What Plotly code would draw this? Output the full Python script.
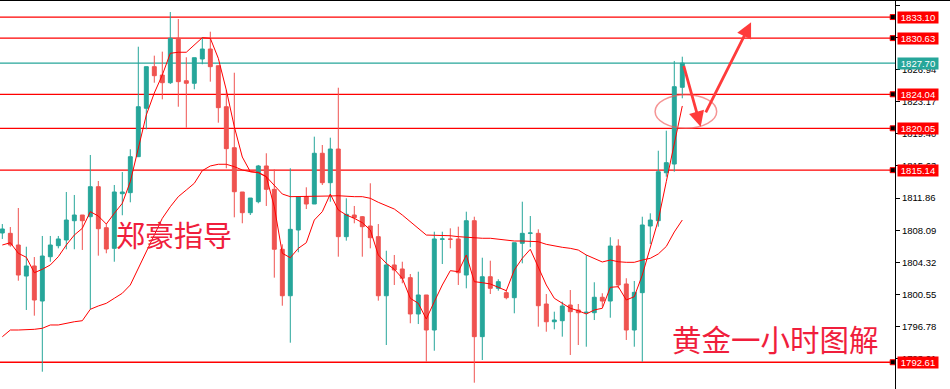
import plotly.graph_objects as go

# ---------------- data ----------------
opens = [1807.77, 1807.73, 1806.36, 1802.72, 1803.90, 1799.79, 1804.99, 1806.28, 1806.95, 1809.21,
         1809.88, 1809.68, 1813.20, 1808.39, 1805.97, 1812.38, 1812.50, 1816.72, 1822.40, 1827.28,
         1826.30, 1825.40, 1830.61, 1825.63, 1825.33, 1828.18, 1829.35, 1827.39, 1822.58, 1817.77,
         1812.58, 1810.15, 1811.44, 1815.63, 1812.89, 1805.86, 1800.41, 1808.12, 1812.03, 1811.17,
         1817.12, 1813.67, 1817.62, 1807.34, 1809.88, 1809.68, 1808.59, 1807.34, 1800.41, 1804.02,
         1803.55, 1802.53, 1798.27, 1800.50, 1796.39, 1807.03, 1807.07, 1807.07, 1802.84, 1809.21,
         1795.61, 1802.64, 1801.28, 1800.77, 1800.18, 1806.56, 1807.73, 1807.73, 1799.44, 1797.36,
         1797.48, 1799.32, 1798.74, 1798.42, 1798.42, 1800.23, 1799.79, 1806.24, 1801.79, 1796.39,
         1800.77, 1808.59, 1809.21, 1814.84, 1815.86, 1824.86]
highs = [1808.82, 1808.47, 1810.70, 1806.16, 1804.95, 1807.42, 1807.42, 1807.42, 1812.58, 1812.23,
         1809.88, 1816.92, 1813.87, 1808.82, 1813.40, 1814.92, 1817.59, 1829.62, 1827.28, 1828.57,
         1829.04, 1833.69, 1832.87, 1828.38, 1828.33, 1830.72, 1831.38, 1827.39, 1824.54, 1826.57,
         1812.58, 1811.87, 1815.75, 1817.12, 1815.24, 1806.44, 1815.36, 1812.03, 1813.13, 1819.07,
         1818.09, 1818.95, 1824.81, 1811.84, 1810.94, 1809.76, 1813.60, 1808.82, 1805.69, 1805.19,
         1804.40, 1802.96, 1803.23, 1800.50, 1807.92, 1807.92, 1808.32, 1808.51, 1810.27, 1809.68,
         1804.87, 1804.52, 1802.34, 1801.08, 1806.63, 1811.44, 1809.76, 1808.20, 1800.61, 1798.54,
         1799.71, 1801.08, 1799.44, 1805.19, 1801.99, 1800.70, 1807.27, 1807.03, 1802.46, 1802.14,
         1809.68, 1810.08, 1817.42, 1819.77, 1827.95, 1828.45]
lows = [1807.07, 1806.16, 1802.17, 1798.74, 1798.07, 1791.50, 1804.40, 1805.97, 1805.86, 1805.86,
        1805.78, 1798.82, 1805.11, 1805.39, 1804.40, 1809.85, 1811.37, 1816.72, 1819.93, 1825.40,
        1823.45, 1825.25, 1822.58, 1820.12, 1824.63, 1827.56, 1825.52, 1820.71, 1815.36, 1809.61,
        1808.91, 1809.88, 1811.25, 1810.94, 1802.53, 1799.24, 1794.90, 1805.51, 1810.58, 1811.17,
        1813.40, 1811.44, 1804.99, 1806.87, 1808.91, 1804.99, 1805.97, 1799.83, 1794.63, 1801.67,
        1801.87, 1797.18, 1797.09, 1792.67, 1793.96, 1804.13, 1805.97, 1801.67, 1801.28, 1790.21,
        1792.87, 1800.61, 1801.00, 1799.99, 1798.35, 1804.21, 1806.09, 1796.78, 1796.19, 1796.47,
        1795.61, 1793.46, 1794.63, 1794.43, 1797.56, 1799.12, 1797.83, 1801.28, 1795.22, 1794.43,
        1792.67, 1806.48, 1808.51, 1814.37, 1814.96, 1823.57]
closes = [1808.24, 1806.36, 1802.84, 1803.90, 1799.91, 1805.07, 1806.36, 1807.07, 1809.29, 1809.88,
          1809.21, 1813.20, 1808.27, 1805.89, 1812.58, 1812.58, 1816.72, 1822.58, 1827.28, 1826.22,
          1825.40, 1830.61, 1825.52, 1825.33, 1828.33, 1829.35, 1827.28, 1822.47, 1817.66, 1812.61,
          1810.15, 1811.87, 1815.63, 1812.89, 1805.86, 1800.41, 1808.20, 1812.03, 1811.17, 1817.12,
          1813.67, 1817.62, 1807.34, 1809.96, 1809.56, 1808.51, 1807.22, 1800.41, 1804.02, 1803.43,
          1802.46, 1798.27, 1800.50, 1796.39, 1807.07, 1807.07, 1807.03, 1803.11, 1809.21, 1795.61,
          1802.64, 1801.28, 1802.06, 1800.18, 1806.63, 1807.73, 1807.77, 1799.24, 1797.36, 1797.56,
          1799.21, 1798.54, 1798.42, 1798.47, 1800.23, 1799.79, 1806.24, 1801.67, 1796.39, 1800.81,
          1808.71, 1809.29, 1814.96, 1816.02, 1824.93, 1827.70]
fast_ma = [1806.36, 1806.63, 1805.39, 1804.92, 1803.11, 1803.51, 1804.02, 1804.99, 1806.36, 1807.53,
           1808.32, 1810.27, 1809.76, 1808.82, 1810.08, 1811.25, 1813.79, 1817.70, 1821.61, 1824.19,
           1826.30, 1828.85, 1828.97, 1828.97, 1829.82, 1830.68, 1830.61, 1828.26, 1824.54, 1820.24,
           1816.68, 1814.96, 1814.84, 1814.37, 1810.85, 1805.39, 1804.87, 1805.97, 1806.63, 1809.29,
           1810.27, 1812.34, 1810.47, 1809.88, 1809.49, 1808.98, 1808.12, 1805.19, 1804.21, 1803.51,
           1802.46, 1800.11, 1799.52, 1797.68, 1799.71, 1801.67, 1803.35, 1803.23, 1805.19, 1802.06,
           1801.94, 1801.79, 1801.40, 1801.00, 1803.43, 1804.80, 1805.86, 1803.82, 1801.67, 1800.11,
           1799.52, 1798.94, 1798.65, 1798.27, 1798.74, 1798.94, 1801.40, 1801.47, 1799.91, 1800.30,
           1802.84, 1805.97, 1809.29, 1813.79, 1818.33, 1822.67]
slow_ma = [1795.60, 1796.39, 1796.39, 1796.39, 1796.47, 1796.59, 1796.98, 1796.98, 1797.18, 1797.36,
           1797.48, 1798.82, 1799.21, 1799.52, 1800.11, 1800.70, 1801.67, 1803.63, 1805.77, 1807.73,
           1809.49, 1810.85, 1812.03, 1812.81, 1813.60, 1815.08, 1815.63, 1815.83, 1815.83, 1815.55,
           1815.16, 1814.96, 1814.89, 1814.37, 1813.40, 1812.34, 1812.03, 1812.03, 1812.03, 1812.11,
           1812.11, 1812.11, 1812.14, 1812.07, 1812.03, 1812.03, 1811.84, 1811.37, 1810.94, 1810.58,
           1809.88, 1809.09, 1808.32, 1807.53, 1807.50, 1807.50, 1807.45, 1807.34, 1807.26, 1807.15,
           1807.15, 1807.15, 1807.03, 1806.87, 1806.83, 1806.83, 1806.83, 1806.75, 1806.44, 1806.24,
           1806.09, 1805.97, 1805.77, 1805.19, 1804.80, 1804.37, 1804.60, 1804.40, 1804.33, 1804.33,
           1804.60, 1804.80, 1805.31, 1806.19, 1807.89, 1809.29]
bars = list(range(len(closes)))

red_levels = [1833.10, 1830.63, 1824.04, 1820.05, 1815.14, 1792.61]
teal_level = 1827.70
tick_values = [1834.48, 1830.71, 1826.94, 1823.17, 1819.40, 1815.63,
               1811.86, 1808.09, 1804.32, 1800.55, 1796.78, 1793.01]
title_left = "郑豪指导"
title_right = "黄金一小时图解"

UP = "#26a69a"
DOWN = "#ef5350"
RED = "#ff0000"
TXT = "#f01e3c"

fig = go.Figure()
fig.add_trace(go.Candlestick(
    x=bars, open=opens, high=highs, low=lows, close=closes,
    increasing=dict(line=dict(color=UP, width=1), fillcolor=UP),
    decreasing=dict(line=dict(color=DOWN, width=1), fillcolor=DOWN),
    whiskerwidth=0, showlegend=False, hoverinfo="skip"))
fig.add_trace(go.Scatter(x=bars, y=slow_ma, mode="lines",
                         line=dict(color=RED, width=1), showlegend=False, hoverinfo="skip"))
fig.add_trace(go.Scatter(x=bars, y=fast_ma, mode="lines",
                         line=dict(color=RED, width=1), showlegend=False, hoverinfo="skip"))

shapes = []
for lv in red_levels:
    shapes.append(dict(type="line", xref="paper", yref="y", x0=0, x1=0.997, y0=lv, y1=lv,
                       line=dict(color=RED, width=1.3), layer="below"))
shapes.append(dict(type="line", xref="paper", yref="y", x0=0, x1=1.0, y0=teal_level, y1=teal_level,
                   line=dict(color=UP, width=1.3), layer="below"))
# top border
shapes.append(dict(type="line", xref="paper", yref="paper", x0=0, x1=1.07, y0=1, y1=1,
                   line=dict(color="black", width=2)))
# ellipse
shapes.append(dict(type="circle", xref="x", yref="y", x0=81.6, x1=89.3, y0=1820.05, y1=1823.98,
                   line=dict(color="rgba(240,90,90,0.65)", width=1.5)))

# squares at the line ends
fig.add_trace(go.Scatter(x=[111.3] * len(red_levels), y=red_levels, mode="markers",
                         marker=dict(symbol="square", size=5, color="black",
                                     line=dict(color=RED, width=1)),
                         cliponaxis=False, showlegend=False, hoverinfo="skip"))

annotations = []
for lv in red_levels:
    annotations.append(dict(xref="paper", yref="y", x=1, y=lv, xshift=2, xanchor="left",
                            yanchor="middle", text=f"{lv:.2f}", showarrow=False,
                            bgcolor=RED, font=dict(color="white", size=9.5, family="Liberation Sans"),
                            width=38, height=9, borderpad=1, align="center"))
annotations.append(dict(xref="paper", yref="y", x=1, y=teal_level, xshift=2, xanchor="left",
                        yanchor="middle", text=f"{teal_level:.2f}", showarrow=False,
                        bgcolor=UP, font=dict(color="white", size=9.5, family="Liberation Sans"),
                        width=38, height=9, borderpad=1, align="center"))
annotations.append(dict(xref="x", yref="y", x=21.5, y=1807.65, text=title_left, showarrow=False,
                        font=dict(color=TXT, size=29, family="Noto Sans CJK SC")))
annotations.append(dict(xref="x", yref="y", x=96.6, y=1795.5, text=title_right, showarrow=False,
                        font=dict(color=TXT, size=29.5, family="Noto Sans CJK SC")))
# arrows
annotations.append(dict(xref="x", yref="y", axref="x", ayref="y", x=87.3, y=1820.24,
                        ax=85.13, ay=1827.56, text="", showarrow=True, arrowhead=2,
                        arrowsize=1.1, arrowwidth=2.8, arrowcolor="#ff3b3b"))
annotations.append(dict(xref="x", yref="y", axref="x", ayref="y", x=93.6, y=1832.48,
                        ax=87.84, ay=1821.73, text="", showarrow=True, arrowhead=2,
                        arrowsize=1.1, arrowwidth=2.8, arrowcolor="#ff3b3b"))

fig.update_layout(
    width=950, height=389, margin=dict(l=0, r=55, t=0, b=0),
    paper_bgcolor="white", plot_bgcolor="white",
    shapes=shapes, annotations=annotations, showlegend=False,
    xaxis=dict(range=[-0.29, 111.59], showgrid=False, zeroline=False, showticklabels=False,
               ticks="", showline=False, rangeslider=dict(visible=False), fixedrange=True),
    yaxis=dict(range=[1789.47, 1835.10], side="right", showgrid=False, zeroline=False,
               showline=True, linecolor="black", linewidth=1, ticks="outside", ticklen=4,
               tickcolor="black", tickvals=tick_values, ticktext=[f"{v:.2f}" for v in tick_values],
               tickfont=dict(size=9.5, color="black", family="Liberation Sans"), fixedrange=True),
)

fig.write_html("out.html", config={"displayModeBar": False},
               post_script="document.body.style.margin='0';document.body.style.overflow='hidden';")
